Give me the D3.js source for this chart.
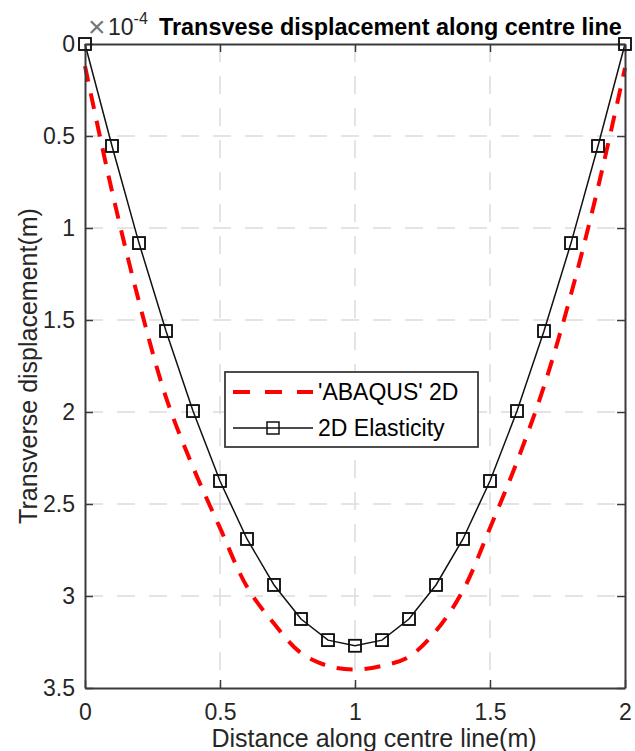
<!DOCTYPE html>
<html>
<head>
<meta charset="utf-8">
<script src="https://cdn.jsdelivr.net/npm/d3@7"></script>
<style>
  body { margin: 0; background: #fff; }
  text { font-family: "Liberation Sans", Arial, Helvetica, sans-serif; }
</style>
</head>
<body>
<svg id="chart" width="635" height="751"></svg>
<script>
// Distance along the centre line (m)
const distance = [0, 0.1, 0.2, 0.3, 0.4, 0.5, 0.6, 0.7, 0.8, 0.9, 1.0,
                  1.1, 1.2, 1.3, 1.4, 1.5, 1.6, 1.7, 1.8, 1.9, 2.0];
// Transverse displacement, in units of 1e-4 m
const abaqus2D = [0.12, 0.80, 1.40, 1.92, 2.30, 2.63, 2.95, 3.15, 3.31, 3.38, 3.40,
                  3.38, 3.33, 3.19, 2.97, 2.63, 2.27, 1.86, 1.36, 0.78, 0.13];
const elasticity2D = [0, 0.554, 1.082, 1.56, 1.995, 2.375, 2.69, 2.94, 3.125, 3.24, 3.27,
                      3.24, 3.125, 2.94, 2.69, 2.375, 1.995, 1.56, 1.082, 0.554, 0];
const xTicks = [0, 0.5, 1, 1.5, 2];
const yTicks = [0, 0.5, 1, 1.5, 2, 2.5, 3, 3.5];
const seriesNames = ["'ABAQUS' 2D", "2D Elasticity"];

const svg = d3.select("#chart");
const plot = { left: 85, right: 625, top: 44, bottom: 688 };

const x = d3.scaleLinear().domain([0, 2]).range([plot.left, plot.right]);
const y = d3.scaleLinear().domain([0, 3.5]).range([plot.top, plot.bottom]); // reversed axis

const axisColor = "#3a3a3a";
const fmt = d3.format("~g");

// grid
const grid = svg.append("g").attr("stroke", "#dcdcdc").attr("stroke-width", 1.5)
  .attr("stroke-dasharray", "18,14");
grid.selectAll(".gx").data(xTicks.slice(1, -1)).join("line")
  .attr("x1", d => x(d)).attr("x2", d => x(d))
  .attr("y1", plot.top).attr("y2", plot.bottom);
grid.selectAll(".gy").data(yTicks.slice(1, -1)).join("line")
  .attr("y1", d => y(d)).attr("y2", d => y(d))
  .attr("x1", plot.left).attr("x2", plot.right);

// ABAQUS curve
const redLine = d3.line().x((d, i) => x(distance[i])).y(d => y(d)).curve(d3.curveCatmullRom);
svg.append("path").datum(abaqus2D)
  .attr("d", redLine)
  .attr("fill", "none").attr("stroke", "#ff0000").attr("stroke-width", 4)
  .attr("stroke-dasharray", "16,12");

// Elasticity curve with square markers
const blackLine = d3.line().x((d, i) => x(distance[i])).y(d => y(d));
svg.append("path").datum(elasticity2D)
  .attr("d", blackLine)
  .attr("fill", "none").attr("stroke", "#111").attr("stroke-width", 1.5);

const ms = 12;
function markers(g) {
  g.selectAll("rect").data(elasticity2D).join("rect")
    .attr("x", (d, i) => x(distance[i]) - ms / 2)
    .attr("y", d => y(d) - ms / 2)
    .attr("width", ms).attr("height", ms)
    .attr("fill", "none").attr("stroke", "#111").attr("stroke-width", 1.5);
}
svg.append("g").call(markers);

// axes (box with inward ticks)
function styleAxis(g) {
  g.selectAll(".domain").attr("stroke", axisColor).attr("stroke-width", 2);
  g.selectAll(".tick line").attr("stroke", axisColor).attr("stroke-width", 1.5);
  g.selectAll(".tick text").attr("fill", "#262626").attr("font-size", 23);
}
svg.append("g").attr("transform", `translate(0,${plot.bottom})`)
  .call(d3.axisBottom(x).tickValues(xTicks).tickFormat(fmt).tickSizeInner(-8).tickSizeOuter(0).tickPadding(16))
  .call(styleAxis);
svg.append("g").attr("transform", `translate(0,${plot.top})`)
  .call(d3.axisTop(x).tickValues(xTicks).tickFormat("").tickSizeInner(-8).tickSizeOuter(0))
  .call(styleAxis);
svg.append("g").attr("transform", `translate(${plot.left},0)`)
  .call(d3.axisLeft(y).tickValues(yTicks).tickFormat(fmt).tickSizeInner(-8).tickSizeOuter(0).tickPadding(10))
  .call(styleAxis);
svg.append("g").attr("transform", `translate(${plot.right},0)`)
  .call(d3.axisRight(y).tickValues(yTicks).tickFormat("").tickSizeInner(-8).tickSizeOuter(0))
  .call(styleAxis);

// markers drawn again so the corner ones sit over the box
svg.append("g").call(markers);

// axis exponent and title
svg.append("text").attr("x", 88).attr("y", 37).attr("fill", "#777").attr("font-size", 30).text("×");
const expo = svg.append("text").attr("x", 108).attr("y", 35).attr("fill", "#262626").attr("font-size", 23);
expo.append("tspan").text("10");
expo.append("tspan").text("-4").attr("dy", -11).attr("font-size", 16);
svg.append("text").attr("x", 159).attr("y", 35)
  .attr("fill", "#000").attr("font-weight", "bold").attr("font-size", 23.4)
  .text("Transvese displacement along centre line");

// axis labels
svg.append("text").attr("x", 374).attr("y", 747).attr("text-anchor", "middle")
  .attr("fill", "#262626").attr("font-size", 25)
  .text("Distance along centre line(m)");
svg.append("text").attr("transform", "translate(37,366) rotate(-90)").attr("text-anchor", "middle")
  .attr("fill", "#262626").attr("font-size", 25)
  .text("Transverse displacement(m)");

// legend
const lg = svg.append("g");
lg.append("rect").attr("x", 225).attr("y", 372).attr("width", 253).attr("height", 75)
  .attr("fill", "#fff").attr("stroke", axisColor).attr("stroke-width", 1.8);
lg.append("line").attr("x1", 233).attr("x2", 313).attr("y1", 392).attr("y2", 392)
  .attr("stroke", "#ff0000").attr("stroke-width", 4).attr("stroke-dasharray", "17,15");
lg.append("line").attr("x1", 233).attr("x2", 313).attr("y1", 428).attr("y2", 428)
  .attr("stroke", "#111").attr("stroke-width", 1.5);
lg.append("rect").attr("x", 273 - ms / 2).attr("y", 428 - ms / 2).attr("width", ms).attr("height", ms)
  .attr("fill", "none").attr("stroke", "#111").attr("stroke-width", 1.5);
lg.selectAll(".lt").data(seriesNames).join("text")
  .attr("x", 318).attr("y", (d, i) => 400 + i * 36)
  .attr("fill", "#000").attr("font-size", 23)
  .text(d => d);
</script>
</body>
</html>
